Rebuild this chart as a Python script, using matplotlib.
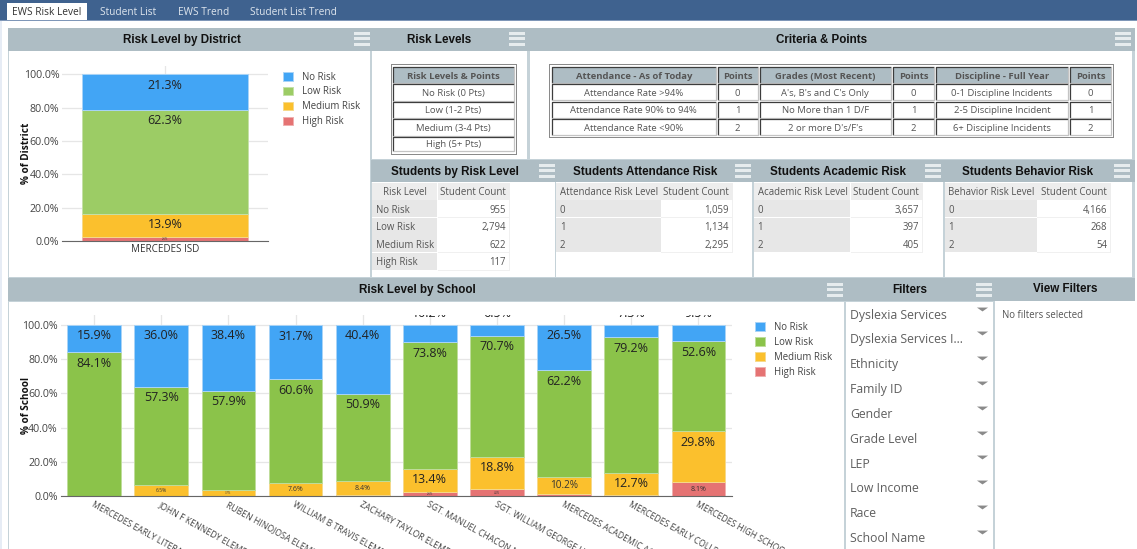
import matplotlib as mpl
mpl.use('Agg')
import matplotlib.pyplot as plt
from matplotlib.patches import Rectangle

W, H = 1137, 549

# data
risk_levels = ['No Risk', 'Low Risk', 'Medium Risk', 'High Risk']
district_names = ['MERCEDES ISD']
district_vals = [[21.3], [62.3], [13.9], [2.6]]

school_names = ['MERCEDES EARLY LITERACY CENTER', 'JOHN F KENNEDY ELEMENTARY', 'RUBEN HINOJOSA ELEMENTARY',
                'WILLIAM B TRAVIS ELEMENTARY', 'ZACHARY TAYLOR ELEMENTARY', 'SGT. MANUEL CHACON MIDDLE SCHOOL',
                'SGT. WILLIAM GEORGE HARVEY MIDDLE SCHOOL', 'MERCEDES ACADEMIC ACADEMY',
                'MERCEDES EARLY COLLEGE ACADEMY', 'MERCEDES HIGH SCHOOL']
school_no = [15.9, 36.0, 38.4, 31.7, 40.4, 10.2, 6.5, 26.5, 7.3, 9.5]
school_low = [84.1, 57.3, 57.9, 60.6, 50.9, 73.8, 70.7, 62.2, 79.2, 52.6]
school_med = [0, 6.7, 3.7, 7.6, 8.4, 13.4, 18.8, 10.2, 12.7, 29.8]
school_high = [0, 0, 0, 0, 0.3, 2.6, 4.0, 1.1, 0.8, 8.1]
school_vals = [school_no, school_low, school_med, school_high]
# the picture prints 6.5% on the John F Kennedy medium segment
school_labels_med = {1: 6.5}

tabs = ['EWS Risk Level', 'Student List', 'EWS Trend', 'Student List Trend']
levels_header = ['Risk Levels & Points']
levels_rows = ['No Risk (0 Pts)', 'Low (1-2 Pts)', 'Medium (3-4 Pts)', 'High (5+ Pts)']
criteria_header = ['Attendance - As of Today', 'Points', 'Grades (Most Recent)', 'Points', 'Discipline - Full Year', 'Points']
criteria_rows = [['Attendance Rate >94%', '0', "A's, B's and C's Only", '0', '0-1 Discipline Incidents', '0'],
                 ['Attendance Rate 90% to 94%', '1', 'No More than 1 D/F', '1', '2-5 Discipline Incident', '1'],
                 ['Attendance Rate <90%', '2', "2 or more D's/F's", '2', '6+ Discipline Incidents', '2']]
risk_counts = ['955', '2,794', '622', '117']
attendance_counts = ['1,059', '1,134', '2,295']
academic_counts = ['3,657', '397', '405']
behavior_counts = ['4,166', '268', '54']
level_codes = ['0', '1', '2']
filters = ['Dyslexia Services', 'Dyslexia Services I...', 'Ethnicity', 'Family ID', 'Gender', 'Grade Level',
           'LEP', 'Low Income', 'Race', 'School Name']

HEAD = '#aebdc4'
LINE = '#c5d2d8'
BLUE, RED, AMBER = '#42a5f5', '#e57373', '#fbc02d'
OPEN = ['Open Sans', 'DejaVu Sans']
BOLD = ['Liberation Sans', 'DejaVu Sans']

fig = plt.figure(figsize=(W / 100, H / 100), dpi=100, facecolor='white')
bg = fig.add_axes([0, 0, 1, 1], zorder=0)
bg.set_xlim(0, W)
bg.set_ylim(H, 0)
bg.axis('off')


def box(x0, y0, x1, y1, color, ec='none', lw=0):
    bg.add_patch(Rectangle((x0, y0), x1 - x0, y1 - y0, fc=color, ec=ec, lw=lw))


def label(x, y, s, size=7.5, color='#555555', ha='center', family=OPEN, **kw):
    # va center sits a bit high for these fonts
    bg.text(x, y + 1.2, s, fontsize=size, color=color, ha=ha, va='center', family=family, **kw)


def burger(x, y):
    for i in range(3):
        box(x, y + i * 5.4, x + 16, y + i * 5.4 + 2.8, '#e6ecee')


def title(x, y, s):
    label(x, y, s, size=8.4, color='#111111', family=BOLD, fontweight='bold')


def inset_cell(x0, y0, x1, y1, s, fc='white', **kw):
    box(x0, y0, x1, y1, fc)
    bg.plot([x0, x0, x1], [y1, y0, y0], color='#3d3d3d', lw=0.9, solid_capstyle='butt')
    bg.plot([x0, x1, x1], [y1, y1, y0], color='#c4c4c4', lw=0.9, solid_capstyle='butt')
    label((x0 + x1) / 2, (y0 + y1) / 2, s, size=6.8, **kw)


def count_table(x0, x1, x2, head, names, counts):
    rows = [182.5 + i * 17.6 for i in range(len(names) + 2)]
    box(x0, rows[0], x1 - 0.5, rows[1] - 0.5, '#ededed')
    box(x1, rows[0], x2, rows[1] - 0.5, '#ededed')
    label(x0 + (4 if x2 - x0 > 150 else (x1 - x0) / 2), (rows[0] + rows[1]) / 2, head, size=6.9,
          ha='left' if x2 - x0 > 150 else 'center')
    label(x2 - 4, (rows[0] + rows[1]) / 2, 'Student Count', size=7, ha='right')
    for i, (n, c) in enumerate(zip(names, counts)):
        y0, y1 = rows[i + 1], rows[i + 2]
        box(x0, y0, x1 - 0.5, y1 - 0.5, '#e7e7e7')
        box(x1, y1 - 0.8, x2, y1, '#f0f0f0')
        box(x2 - 0.8, y0, x2, y1, '#f0f0f0')
        label(x0 + 4, (y0 + y1) / 2, n, size=6.9, ha='left')
        label(x2 - 4, (y0 + y1) / 2, c, size=6.9, ha='right')


# page chrome
box(0, 0, W, 20, '#3f628f')
box(0, 20, W, 21, '#7f97b8')
box(0, 21, 2, H, '#e6ecf5')
box(7, 3, 87, 20, 'white')
for x, s, c in zip([47, 128, 204, 293], tabs, ['#333333', '#dfe6ee', '#dfe6ee', '#dfe6ee']):
    label(x, 11, s, size=7.3, color=c)

box(8, 28, 1135, H, HEAD)
box(8, 51, 1135, H, LINE)
box(9, 51, 370, 277, 'white')
box(372, 51, 527, 159, 'white')
box(530, 51, 1132, 159, 'white')
box(371, 160, 1135, 182, HEAD)
box(372, 182, 555, 277, 'white')
box(556, 182, 752, 277, 'white')
box(754, 182, 943, 277, 'white')
box(945, 182, 1132, 277, 'white')
box(8, 278, 1135, 301, HEAD)
box(9, 302, 844, H, 'white')
box(846, 302, 993, H, 'white')
box(995, 301, 1133, H, 'white')
box(1133, 301, 1137, H, 'white')

title(182, 38.5, 'Risk Level by District')
title(439, 38.5, 'Risk Levels')
title(822, 38.5, 'Criteria & Points')
title(455, 170.5, 'Students by Risk Level')
title(645, 170.5, 'Students Attendance Risk')
title(838, 170.5, 'Students Academic Risk')
title(1028, 170.5, 'Students Behavior Risk')
title(417, 289, 'Risk Level by School')
title(910, 289, 'Filters')
title(1065, 288, 'View Filters')
for x, y in [(354, 32), (509, 32), (1115, 32), (539, 164), (735, 164), (925, 164), (1114, 164),
             (827, 283), (976, 283)]:
    burger(x, y)

# risk level and criteria tables
box(391, 64, 517, 155, '#8a8a8a')
box(392, 65, 516, 154, 'white')
levels_y = [67, 84, 101.5, 119, 136.5, 152]
inset_cell(393, levels_y[0], 514, levels_y[1] - 1, levels_header[0], fc=HEAD, fontweight='bold')
for i, s in enumerate(levels_rows):
    inset_cell(393, levels_y[i + 1], 514, levels_y[i + 2] - 1, s)

box(549, 64, 1113.5, 137.5, '#8a8a8a')
box(550, 65, 1112.5, 136.5, 'white')
col_x = [(551.5, 716), (717.5, 757.5), (759.5, 891), (893, 934), (936, 1068), (1070, 1111)]
row_y = [(67, 83), (84, 100), (101.5, 117.5), (119, 135)]
for (x0, x1), s in zip(col_x, criteria_header):
    inset_cell(x0, row_y[0][0], x1, row_y[0][1], s, fc=HEAD, fontweight='bold')
for (y0, y1), row in zip(row_y[1:], criteria_rows):
    for (x0, x1), s in zip(col_x, row):
        inset_cell(x0, y0, x1, y1, s)

# count tables
count_table(372, 437.5, 510, 'Risk Level', risk_levels, risk_counts)
count_table(556, 661, 733, 'Attendance Risk Level', level_codes, attendance_counts)
count_table(753.5, 850.5, 923, 'Academic Risk Level', level_codes, academic_counts)
count_table(944.5, 1037, 1111, 'Behavior Risk Level', level_codes, behavior_counts)

# filters
caret = [(-1, 0.35), (1, 0.35), (0, -0.35)]
for i, s in enumerate(filters):
    y = 314 + i * 24.8
    label(850, y, s, size=8.8, ha='left', color='#5f5f5f')
    bg.plot([982], [y - 5.5], marker=caret, ms=8, color='#8a8a8a', mec='none')
label(1002, 314, 'No filters selected', size=6.9, ha='left')


def stacked_chart(px, names, vals, colors, edges, ylabel, bar_w, legend_xy, med_override=None):
    x0, x1, ytop, y100, y0 = px
    ax = fig.add_axes([x0 / W, 1 - y0 / H, (x1 - x0) / W, (y0 - ytop) / H], zorder=1)
    ax.patch.set_alpha(0)
    ax.set_xlim(-0.5, len(names) - 0.5)
    ax.set_ylim(0, 100 * (y0 - ytop) / (y0 - y100))
    ax.set_axisbelow(True)
    ax.grid(True, color='#e6e6e6', lw=0.9)
    for s in ['top', 'left', 'right']:
        ax.spines[s].set_visible(False)
    ax.spines['bottom'].set_color('#666666')
    ax.set_yticks(range(0, 101, 20))
    ax.set_yticklabels(['%.1f%%' % t for t in range(0, 101, 20)], fontsize=7.7, color='#444444', family=OPEN)
    ax.tick_params(length=0, axis='both')
    ax.tick_params(axis='y', pad=2)
    ax.set_ylabel(ylabel, fontsize=7.2, fontweight='bold', family=OPEN, color='#111111')
    ax.yaxis.set_label_coords((32 - x0) / (x1 - x0), 0.5)

    bottoms = [0] * len(names)
    handles = {}
    # stack from the bottom up, High Risk first
    for k in range(3, -1, -1):
        series = vals[k]
        h = ax.bar(range(len(names)), series, bar_w, bottom=bottoms, color=colors[k], edgecolor=edges[k], lw=0.7)
        handles[k] = h
        for i, v in enumerate(series):
            top = bottoms[i] + v
            shown = v
            if k == 2 and med_override and i in med_override:
                shown = med_override[i]
            txt = '%.1f%%' % shown
            if k == 0 and v < 11:
                ax.annotate(txt, (i, top), xytext=(0, 3.5), textcoords='offset points', ha='center', va='bottom',
                            fontsize=9, color='#222222', family=OPEN, annotation_clip=False, clip_on=True)
            elif v >= 11:
                ax.annotate(txt, (i, top), xytext=(0, -7.8), textcoords='offset points', ha='center', va='center',
                            fontsize=9, color='#222222', family=OPEN)
            elif v >= 2:
                size = 7.2 if v >= 10 else 5 if v >= 7.5 else 3.6 if v >= 6 else 2
                ax.text(i, bottoms[i] + v / 2, txt, ha='center', va='center', fontsize=size,
                        color='#333333', family=OPEN)
        bottoms = [b + v for b, v in zip(bottoms, series)]

    leg = ax.legend([handles[k] for k in range(4)], risk_levels, loc='upper left',
                    bbox_to_anchor=(legend_xy[0] / W, 1 - legend_xy[1] / H), bbox_transform=fig.transFigure,
                    frameon=False, prop={'family': OPEN, 'size': 6.9}, labelcolor='#444444',
                    handlelength=1.0, handleheight=1.0, handletextpad=1.02, labelspacing=0.41,
                    borderpad=0, borderaxespad=0)
    return ax


district_colors = [BLUE, '#9ccc65', AMBER, RED]
district_edges = ['#a9d4f7', '#c5e0a8', '#f6d98a', '#efb0b0']
ax1 = stacked_chart((62, 268, 66, 74.5, 241), district_names, district_vals, district_colors, district_edges,
                    '% of District', 0.806, (283, 71.5))
ax1.set_xticks([0])
ax1.set_xticklabels(district_names, fontsize=7.1, color='#333333', family=OPEN)
ax1.tick_params(axis='x', pad=2)

school_colors = [BLUE, '#8bc34a', AMBER, RED]
school_edges = ['#a9d4f7', '#bfdd9b', '#f6d98a', '#efb0b0']
ax2 = stacked_chart((60.5, 732, 315, 325, 496), school_names, school_vals, school_colors, school_edges,
                    '% of School', 0.8, (755, 322), med_override=school_labels_med)
ax2.set_xticks(range(len(school_names)))
ax2.set_xticklabels(school_names, fontsize=6.2, color='#444444', family=OPEN, rotation=-29,
                    ha='left', va='top', rotation_mode='anchor')
ax2.tick_params(axis='x', pad=3)

fig.savefig('out.png', dpi=100)
